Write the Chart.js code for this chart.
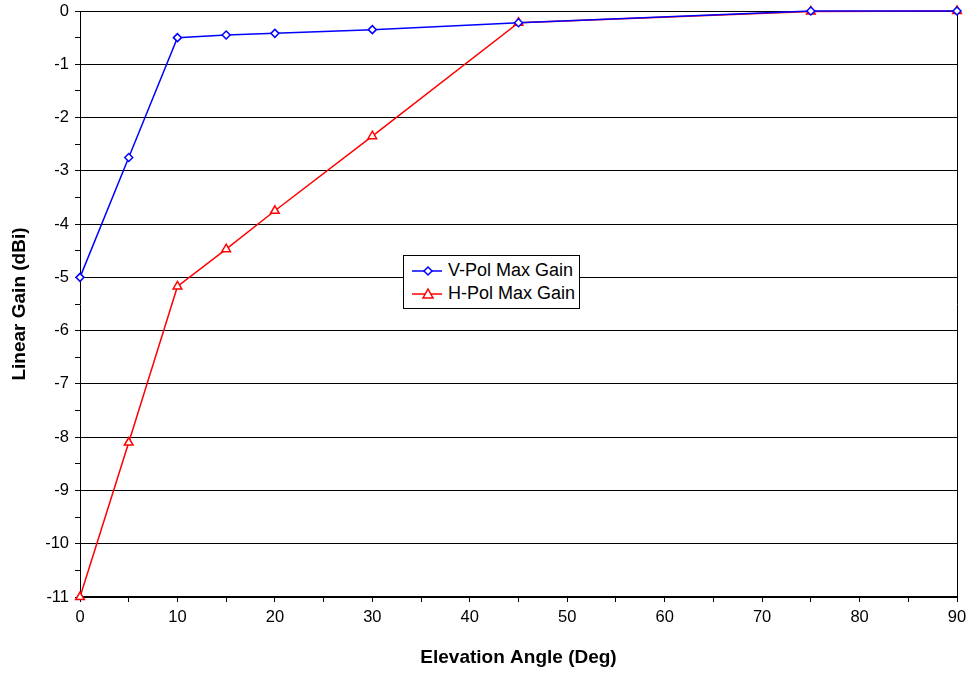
<!DOCTYPE html>
<html>
<head>
<meta charset="utf-8">
<script src="https://cdn.jsdelivr.net/npm/chart.js@4"></script>
<style>
  body { margin: 0; background: #fff; }
  #wrap { position: relative; width: 971px; height: 673px; }
  #legend {
    position: absolute; left: 403px; top: 255px; width: 175px; height: 52px;
    background: #fff; border: 1px solid #000;
    font-family: "Liberation Sans", Arial, sans-serif; font-size: 18px; color: #000;
  }
  #legend div { position: absolute; left: 8px; height: 20px; line-height: 20px; white-space: nowrap; }
  #legend svg { vertical-align: middle; margin-right: 2px; }
</style>
</head>
<body>
<div id="wrap">
  <canvas id="chart" width="971" height="673"></canvas>
  <div id="legend"></div>
</div>
<script>
const angles = [0, 5, 10, 15, 20, 30, 45, 75, 90];
const vPolGain = [-5, -2.75, -0.5, -0.45, -0.42, -0.35, -0.22, 0, 0];
const hPolGain = [-11, -8.1, -5.17, -4.47, -3.75, -2.35, -0.22, -0.01, 0];
const seriesNames = ['V-Pol Max Gain', 'H-Pol Max Gain'];
const xTitle = 'Elevation Angle (Deg)';
const yTitle = 'Linear Gain (dBi)';

const font = '"Liberation Sans", Arial, sans-serif';

function points(ys) {
    return angles.map((a, i) => ({ x: a, y: ys[i] }));
}

const ctx = document.getElementById('chart').getContext('2d');
const chart = new Chart(ctx, {
    type: 'scatter',
    data: {
        datasets: [{
            label: seriesNames[0],
            data: points(vPolGain),
            showLine: true,
            borderColor: '#0000ff',
            backgroundColor: '#ffffff',
            borderWidth: 1.5,
            pointStyle: 'rectRot',
            pointRadius: 4,
            pointBorderWidth: 1.5,
            pointBorderColor: '#0000ff',
            clip: false
        }, {
            label: seriesNames[1],
            data: points(hPolGain),
            showLine: true,
            borderColor: '#ff0000',
            backgroundColor: '#ffffff',
            borderWidth: 1.5,
            pointStyle: 'triangle',
            pointRadius: 5,
            pointBorderWidth: 1.5,
            pointBorderColor: '#ff0000',
            clip: false
        }]
    },
    options: {
        responsive: false,
        animation: false,
        layout: { padding: { top: 11, right: 14, left: 0, bottom: 0 } },
        plugins: {
            legend: { display: false },
            tooltip: { enabled: false }
        },
        scales: {
            x: {
                type: 'linear',
                min: 0, max: 90,
                ticks: {
                    stepSize: 5,
                    autoSkip: false,
                    maxRotation: 0,
                    padding: 6,
                    color: '#000',
                    font: { family: font, size: 16.5 },
                    callback: v => (v % 10 === 0 ? v : '')
                },
                grid: {
                    drawOnChartArea: false,
                    tickLength: 5,
                    tickColor: '#000',
                    color: '#000'
                },
                border: { color: '#000', width: 2 },
                title: {
                    display: true, text: xTitle, color: '#000',
                    font: { family: font, size: 19, weight: 'bold' },
                    padding: { top: 10 }
                },
                afterFit: s => { s.height = 76; s.paddingRight = 0; s.paddingLeft = 0; }
            },
            y: {
                min: -11, max: 0,
                ticks: {
                    stepSize: 0.5,
                    autoSkip: false,
                    padding: 6,
                    color: '#000',
                    font: { family: font, size: 16.5 },
                    callback: v => (Number.isInteger(v) ? v : '')
                },
                grid: {
                    tickLength: 5,
                    tickColor: '#000',
                    color: c => (Number.isInteger(c.tick.value) ? '#000' : 'rgba(0,0,0,0)'),
                    lineWidth: 1
                },
                border: { color: '#000', width: 1 },
                title: {
                    display: true, text: yTitle, color: '#000',
                    font: { family: font, size: 19, weight: 'bold' },
                    padding: { top: 8, bottom: 8 }
                },
                afterFit: s => { s.width = 80; s.paddingTop = 0; s.paddingBottom = 0; }
            },
            y2: {
                position: 'right',
                min: -11, max: 0,
                ticks: { display: false },
                grid: { display: false },
                border: { color: '#000', width: 1 },
                afterFit: s => { s.width = 0; }
            }
        }
    }
});

// legend built from the chart's datasets
const legend = document.getElementById('legend');
chart.data.datasets.forEach((ds, i) => {
    const row = document.createElement('div');
    row.style.top = (i === 0 ? 4 : 27) + 'px';
    const c = ds.borderColor;
    const marker = ds.pointStyle === 'triangle'
        ? `<polygon points="16,5 21,14 11,14" fill="#fff" stroke="${c}" stroke-width="1.5"/>`
        : `<polygon points="16,6 20,10 16,14 12,10" fill="#fff" stroke="${c}" stroke-width="1.5"/>`;
    row.innerHTML = `<svg width="34" height="20"><line x1="0" y1="10" x2="30" y2="10" stroke="${c}" stroke-width="1.5"/>${marker}</svg>${ds.label}`;
    legend.appendChild(row);
});
</script>
</body>
</html>
